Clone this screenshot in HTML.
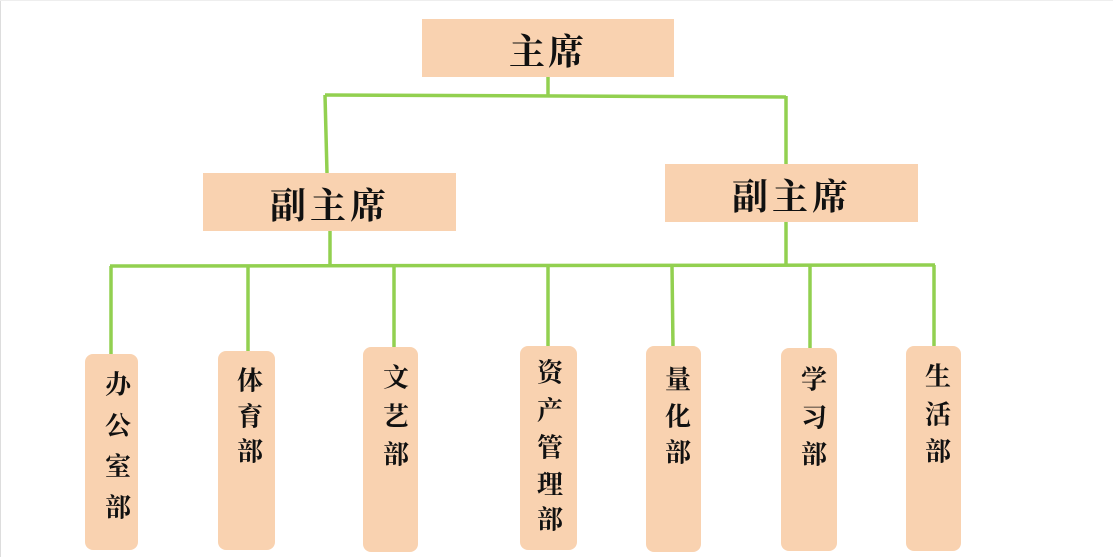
<!DOCTYPE html>
<html><head><meta charset="utf-8"><style>
html,body{margin:0;padding:0;background:#fff;}
svg{display:block;}
text{font-family:"Liberation Serif","Noto Serif CJK SC",serif;fill:#111;text-anchor:middle;dominant-baseline:central;font-weight:bold;}
</style></head><body>
<svg width="1113" height="557" viewBox="0 0 1113 557" xmlns="http://www.w3.org/2000/svg">
<rect x="0" y="0" width="1113" height="557" fill="#fff"/>
<line x1="0.5" y1="0" x2="0.5" y2="557" stroke="#ddd"/>
<line x1="0" y1="0.5" x2="1113" y2="0.5" stroke="#eee"/>
<g stroke="#92d050" stroke-width="3.5" fill="none">
<line x1="548" y1="77" x2="548" y2="95"/>
<line x1="325" y1="95" x2="786" y2="97"/>
<line x1="325" y1="95" x2="327" y2="173"/>
<line x1="786" y1="96" x2="786" y2="164"/>
<line x1="330" y1="231" x2="330" y2="265"/>
<line x1="786" y1="222" x2="786" y2="265"/>
<line x1="110" y1="266" x2="935" y2="265"/>
<line x1="111" y1="266" x2="111" y2="354"/>
<line x1="248" y1="266" x2="248" y2="351"/>
<line x1="394" y1="266" x2="394" y2="347"/>
<line x1="548" y1="266" x2="548" y2="346"/>
<line x1="672" y1="266" x2="673" y2="347"/>
<line x1="810" y1="266" x2="810" y2="349"/>
<line x1="934" y1="265" x2="934" y2="346"/>
</g>
<g fill="#f9d2b0">
<rect x="422" y="19" width="252" height="58"/>
<rect x="203" y="173" width="253" height="58"/>
<rect x="665" y="164" width="253" height="58"/>
<rect x="85" y="354" width="53" height="196" rx="8"/>
<rect x="218" y="351" width="57" height="199" rx="8"/>
<rect x="363" y="347" width="55" height="205" rx="8"/>
<rect x="520" y="346" width="57" height="204" rx="8"/>
<rect x="646" y="346" width="55" height="206" rx="8"/>
<rect x="781" y="348" width="56" height="203" rx="8"/>
<rect x="906" y="346" width="55" height="205" rx="8"/>
</g>
<text x="548" y="52" font-size="36" letter-spacing="3">主席</text>
<text x="330" y="206" font-size="36" letter-spacing="4">副主席</text>
<text x="792" y="197" font-size="36" letter-spacing="4">副主席</text>
<g font-size="26">
<text x="118" y="385">办</text><text x="118" y="426">公</text><text x="118" y="467">室</text><text x="118" y="508">部</text>
<text x="250" y="381">体</text><text x="250" y="417">育</text><text x="250" y="452">部</text>
<text x="396" y="378">文</text><text x="396" y="417">艺</text><text x="396" y="455">部</text>
<text x="550" y="373">资</text><text x="550" y="411">产</text><text x="550" y="448">管</text><text x="550" y="485">理</text><text x="550" y="520">部</text>
<text x="678" y="380">量</text><text x="678" y="417">化</text><text x="678" y="453">部</text>
<text x="814" y="380">学</text><text x="814" y="418">习</text><text x="814" y="455">部</text>
<text x="938" y="377">生</text><text x="938" y="415">活</text><text x="938" y="452">部</text>
</g>
</svg>
</body></html>
